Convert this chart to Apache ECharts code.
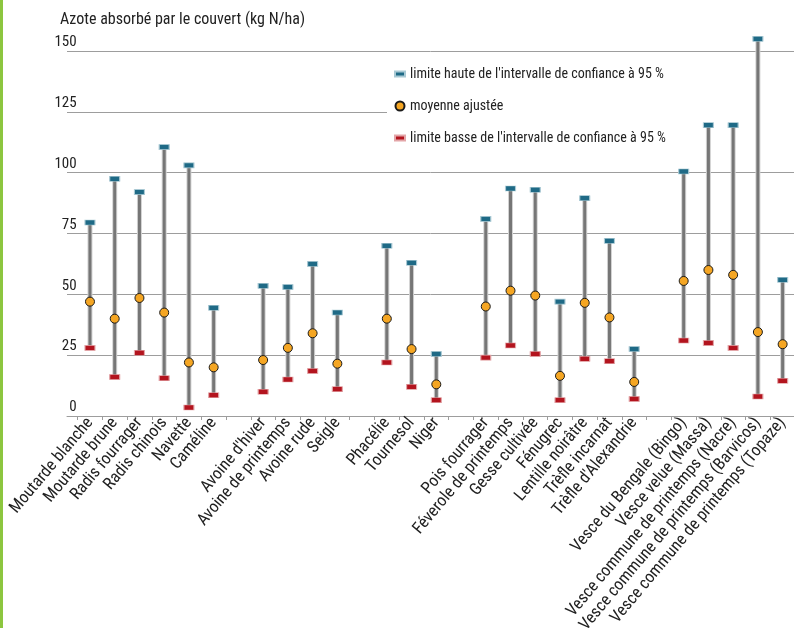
<!DOCTYPE html>
<html lang="fr">
<head>
    <meta charset="UTF-8">
    <title>Azote absorbé par le couvert</title>
    <script src="https://cdn.jsdelivr.net/npm/echarts@6/dist/echarts.min.js"></script>
    <style>
        html, body { margin: 0; padding: 0; background: #fff; }
        #chart { position: absolute; left: 0; top: 0; width: 794px; height: 628px; }
        #bar { position: absolute; left: 0; top: 0; width: 3px; height: 628px; background: #8cc63f; }
    </style>
</head>
<body>
    <div id="chart"></div>
    <div id="bar"></div>
    <script>
        // categories (blank entries are the gaps between groups)
        const cultures = [
            "Moutarde blanche", "Moutarde brune", "Radis fourrager", "Radis chinois", "Navette", "Caméline",
            " ",
            "Avoine d'hiver", "Avoine de printemps", "Avoine rude", "Seigle",
            "  ",
            "Phacélie", "Tournesol", "Niger",
            "   ",
            "Pois fourrager", "Féverole de printemps", "Gesse cultivée", "Fénugrec", "Lentille noirâtre",
            "Trèfle incarnat", "Trèfle d'Alexandrie",
            "    ",
            "Vesce du Bengale (Bingo)", "Vesce velue (Massa)", "Vesce commune de printemps (Nacre)",
            "Vesce commune de printemps (Barvicos)", "Vesce commune de printemps (Topaze)"
        ];
        const limiteHaute = [79.5, 97.5, 92, 110.5, 103, 44.5, null, 53.5, 53, 62.5, 42.5, null, 70, 63, 25.5, null,
            81, 93.5, 93, 47, 89.5, 72, 27.5, null, 100.5, 119.5, 119.5, 155, 56];
        const moyenne = [47, 40, 48.5, 42.5, 22, 20, null, 23, 28, 34, 21.5, null, 40, 27.5, 13, null,
            45, 51.5, 49.5, 16.5, 46.5, 40.5, 14, null, 55.5, 60, 58, 34.5, 29.5];
        const limiteBasse = [28, 16, 26, 15.5, 3.5, 8.5, null, 10, 15, 18.5, 11, null, 22, 12, 6.5, null,
            24, 29, 25.5, 6.5, 23.5, 22.5, 7, null, 31, 30, 28, 8, 14.5];
        const yTicks = [0, 25, 50, 75, 100, 125, 150];

        const titre = 'Azote absorbé par le couvert (kg N/ha)';
        const legHaute = "limite haute de l'intervalle de confiance à 95 %";
        const legMoyenne = 'moyenne ajustée';
        const legBasse = "limite basse de l'intervalle de confiance à 95 %";

        const FONT = "'Roboto Condensed', 'DejaVu Sans Condensed', sans-serif";
        const GRID_COLOR = '#9d9d9d';

        // pick a font size so that a text gets the width it has in the original
        const ctx = document.createElement('canvas').getContext('2d');
        function fitSize(text, width, maxSize) {
            ctx.font = '100px ' + FONT;
            const size = 100 * width / ctx.measureText(text).width;
            return Math.min(maxSize, Math.round(size * 10) / 10);
        }
        const titleSize = fitSize(titre, 252, 16);
        const legendSize = fitSize(legHaute, 254, 15);
        const xLabelSize = fitSize(cultures[28], 262, 18);

        function points(values) {
            const out = [];
            values.forEach((v, i) => { if (v !== null) out.push([i, v]); });
            return out;
        }

        const whiskers = [];
        limiteHaute.forEach((v, i) => {
            if (v !== null) whiskers.push([i, limiteBasse[i], v]);
        });

        const chart = echarts.init(document.getElementById('chart'));
        const rectIcon = 'path://M0,0M10,9M0,2h10v5h-10z';

        // grid 0: data + labels, grid 1: full grid lines, grid 2: short 125 line
        chart.setOption({
            animation: false,
            textStyle: { fontFamily: FONT },
            title: {
                text: titre,
                left: 55,
                top: 7,
                textStyle: { fontFamily: FONT, fontSize: titleSize, fontWeight: 'normal', color: '#222' }
            },
            legend: {
                orient: 'vertical',
                left: 389,
                top: 61,
                itemWidth: 10,
                itemHeight: 9,
                itemGap: 16,
                textStyle: { fontFamily: FONT, fontSize: legendSize, color: '#222', lineHeight: 16 },
                data: [
                    { name: legHaute, icon: rectIcon },
                    { name: legMoyenne, icon: 'circle' },
                    { name: legBasse, icon: rectIcon }
                ]
            },
            grid: [
                { left: 77.6, right: -1, top: 51, bottom: 212, outerBoundsMode: 'none', containLabel: false },
                { left: 67, right: 0, top: 51, bottom: 212, outerBoundsMode: 'none', containLabel: false },
                { left: 67, right: 407, top: 51, bottom: 212, outerBoundsMode: 'none', containLabel: false }
            ],
            xAxis: [
                {
                    type: 'category',
                    gridIndex: 0,
                    data: cultures,
                    boundaryGap: true,
                    axisLine: { show: false },
                    axisTick: { show: true, length: 4, lineStyle: { color: GRID_COLOR } },
                    axisLabel: {
                        interval: 0,
                        rotate: 50,
                        margin: 4,
                        fontFamily: FONT,
                        fontSize: xLabelSize,
                        color: '#222'
                    }
                },
                {
                    type: 'value',
                    gridIndex: 1,
                    min: 0,
                    max: 1,
                    axisLine: { show: true, lineStyle: { color: GRID_COLOR, width: 1 } },
                    axisTick: { show: false },
                    axisLabel: { show: false },
                    splitLine: { show: false }
                },
                { type: 'value', gridIndex: 2, show: false, min: 0, max: 1 }
            ],
            yAxis: [
                {
                    type: 'value',
                    gridIndex: 0,
                    min: 0,
                    max: 150,
                    interval: 25,
                    axisLine: { show: false },
                    axisTick: { show: false },
                    splitLine: { show: false },
                    axisLabel: {
                        margin: 1,
                        fontFamily: FONT,
                        fontSize: 15,
                        color: '#222',
                        verticalAlign: 'bottom',
                        padding: [0, 0, 1, 0]
                    }
                },
                {
                    type: 'value',
                    gridIndex: 1,
                    min: 0,
                    max: 150,
                    interval: 25,
                    axisLine: { show: false },
                    axisTick: { show: false },
                    axisLabel: { show: false },
                    splitLine: {
                        lineStyle: {
                            color: yTicks.map(t => (t === 125 ? 'transparent' : GRID_COLOR)),
                            width: 1
                        }
                    }
                },
                {
                    type: 'value',
                    gridIndex: 2,
                    min: 0,
                    max: 150,
                    interval: 25,
                    axisLine: { show: false },
                    axisTick: { show: false },
                    axisLabel: { show: false },
                    splitLine: {
                        lineStyle: {
                            color: yTicks.map(t => (t === 125 ? GRID_COLOR : 'transparent')),
                            width: 1
                        }
                    }
                }
            ],
            series: [
                {
                    type: 'custom',
                    xAxisIndex: 0,
                    yAxisIndex: 0,
                    clip: false,
                    z: 2,
                    data: whiskers,
                    renderItem: function (params, api) {
                        const lo = api.coord([api.value(0), api.value(1)]);
                        const hi = api.coord([api.value(0), api.value(2)]);
                        return {
                            type: 'group',
                            children: [
                                {
                                    type: 'line',
                                    shape: { x1: lo[0], y1: lo[1], x2: hi[0], y2: hi[1] },
                                    style: { stroke: '#d2d2d2', lineWidth: 5 }
                                },
                                {
                                    type: 'line',
                                    shape: { x1: lo[0], y1: lo[1], x2: hi[0], y2: hi[1] },
                                    style: { stroke: '#767676', lineWidth: 3 }
                                }
                            ]
                        };
                    }
                },
                {
                    name: legHaute,
                    type: 'scatter',
                    xAxisIndex: 0,
                    yAxisIndex: 0,
                    clip: false,
                    z: 3,
                    symbol: 'rect',
                    symbolSize: [10, 5],
                    itemStyle: { color: '#1f6a86', borderColor: '#a9c9d4', borderWidth: 0.8, opacity: 1 },
                    data: points(limiteHaute)
                },
                {
                    name: legMoyenne,
                    type: 'scatter',
                    xAxisIndex: 0,
                    yAxisIndex: 0,
                    clip: false,
                    z: 4,
                    symbol: 'circle',
                    symbolSize: 9,
                    itemStyle: { color: '#f5a623', borderColor: '#1a1a1a', borderWidth: 1, opacity: 1 },
                    data: points(moyenne)
                },
                {
                    name: legBasse,
                    type: 'scatter',
                    xAxisIndex: 0,
                    yAxisIndex: 0,
                    clip: false,
                    z: 3,
                    symbol: 'rect',
                    symbolSize: [10, 5],
                    itemStyle: { color: '#b3141e', borderColor: '#e3a5a8', borderWidth: 0.8, opacity: 1 },
                    data: points(limiteBasse)
                }
            ]
        });
    </script>
</body>
</html>
